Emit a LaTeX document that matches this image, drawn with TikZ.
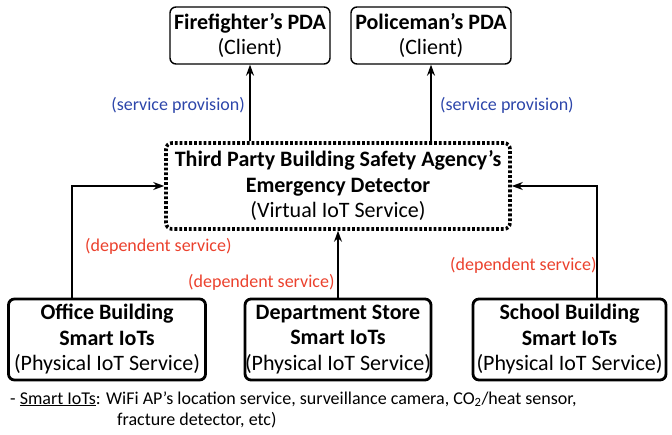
\documentclass[tikz,border=0pt]{standalone}
\usepackage{fontspec}
\setmainfont{Carlito}
\usetikzlibrary{arrows.meta,positioning}
\definecolor{provblue}{RGB}{45,70,170}
\definecolor{depred}{RGB}{235,65,45}
\tikzset{
  box/.style={draw, rounded corners=6pt, align=center, inner sep=0pt,
    font=\fontsize{22}{25.5}\selectfont},
  clientbox/.style={box, line width=1.4pt, minimum width=160pt, minimum height=57pt},
  physbox/.style={box, line width=2.8pt, minimum height=81pt},
  virtbox/.style={box, line width=3.6pt, dash pattern=on 2.8pt off 2pt,
    minimum width=344pt, minimum height=86pt},
  arr/.style={line width=1.4pt, -{Stealth[length=11pt,width=8pt]}},
  provlbl/.style={text=provblue, font=\fontsize{18}{20}\selectfont, inner sep=0pt},
  deplbl/.style={text=depred, font=\fontsize{18}{20}\selectfont, inner sep=0pt},
  notelbl/.style={font=\fontsize{18}{20}\selectfont, inner sep=0pt, anchor=west}
}
\begin{document}
\begin{tikzpicture}[x=1pt,y=-1pt]
\useasboundingbox (0,0) rectangle (672,435);

% clients
\node[clientbox] (fire) at (250,35.5) {\textbf{Firefighter’s PDA}\\(Client)};
\node[clientbox] (police) at (431,35.5) {\textbf{Policeman’s PDA}\\(Client)};

% virtual service
\node[virtbox] (mid) at (338,186)
  {\textbf{Third Party Building Safety Agency’s}\\\textbf{Emergency Detector}\\(Virtual IoT Service)};

% physical services
\node[physbox, minimum width=197pt] (office) at (107,339.5)
  {\textbf{Office Building}\\\textbf{Smart IoTs}\\(Physical IoT Service)};
\node[physbox, minimum width=180pt] (dept) at (338,339.5)
  {\textbf{Department Store}\\\textbf{Smart IoTs}\\(Physical IoT Service)};
\node[physbox, minimum width=193pt] (school) at (569.5,339.5)
  {\textbf{School Building}\\\textbf{Smart IoTs}\\(Physical IoT Service)};

% service provision
\draw[arr] (fire.south |- mid.north) -- (fire.south);
\draw[arr] (police.south |- mid.north) -- (police.south);
\node[provlbl, anchor=east] (pl) at (245,105) {(service provision)};
\node[provlbl, anchor=west] (pr) at (440,105) {(service provision)};

% dependent services
\draw[arr] ([xshift=-35pt]office.north) |- (mid.west);
\draw[arr] ([xshift=27.5pt]school.north) |- (mid.east);
\draw[arr] (dept.north) -- (dept.north |- mid.south);
\node[deplbl, anchor=west] (dl) at (85,246) {(dependent service)};
\node[deplbl, anchor=west] (dm) at (188,282) {(dependent service)};
\node[deplbl, anchor=west] (dr) at (450,265) {(dependent service)};

% footnote
\node[notelbl] (n1) at (10,399) {- \underline{Smart IoTs}: WiFi AP’s location service, surveillance camera, CO\textsubscript{2}/heat sensor,};
\node[notelbl] (n2) at (117,420) {fracture detector, etc)};
\end{tikzpicture}
\end{document}
